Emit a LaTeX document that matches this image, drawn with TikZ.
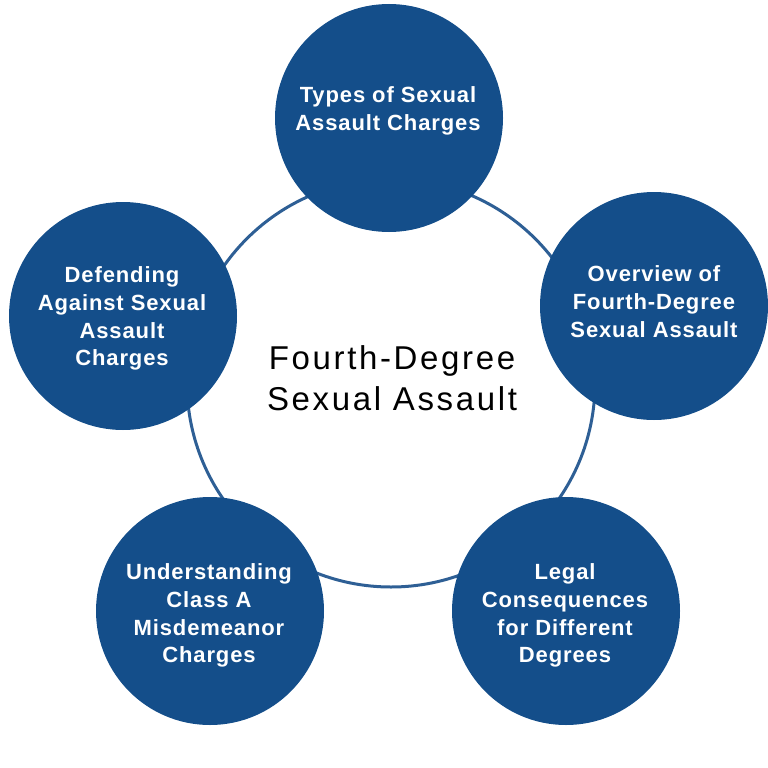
\documentclass[tikz,border=0pt]{standalone}
\usepackage{fontspec}
\setmainfont{Liberation Sans}
\newfontfamily\boldlbl[LetterSpace=4]{Liberation Sans Bold}
\newfontfamily\centerlbl[LetterSpace=8]{Liberation Sans}
\definecolor{dblue}{HTML}{144E8A}
\definecolor{ringblue}{HTML}{2E5F95}
\begin{document}
\begin{tikzpicture}[x=1pt,y=-1pt,
  bubble/.style={circle,fill=dblue,draw=none,minimum size=228pt,inner sep=0pt},
  lbl/.style={text=white,align=center,font=\boldlbl\fontsize{22}{27.8}\selectfont,inner sep=0pt},
  centertext/.style={text=black,align=center,font=\centerlbl\fontsize{33}{41}\selectfont,inner sep=0pt}]
\useasboundingbox (0,0) rectangle (768,768);
\node[circle,draw=ringblue,line width=3pt,minimum size=408pt,inner sep=0pt] (ring) at (391,383) {};
\node[bubble] (c1) at (389,118) {};
\node[bubble] (c2) at (654,306) {};
\node[bubble] (c3) at (566,611) {};
\node[bubble] (c4) at (210,611) {};
\node[bubble] (c5) at (123,316) {};
\node[lbl] (t1) at (388,111) {Types of Sexual\\Assault Charges};
\node[lbl] (t2) at (654,301.5) {Overview of\\Fourth-Degree\\Sexual Assault};
\node[lbl] (t3) at (565,615.5) {Legal\\Consequences\\for Different\\Degrees};
\node[lbl] (t4) at (209,615.5) {Understanding\\Class A\\Misdemeanor\\Charges};
\node[lbl] (t5) at (122,318.5) {Defending\\Against Sexual\\Assault\\Charges};
\node[centertext] (ct) at (392,378.6) {Fourth-Degree\\Sexual Assault};
\end{tikzpicture}
\end{document}
